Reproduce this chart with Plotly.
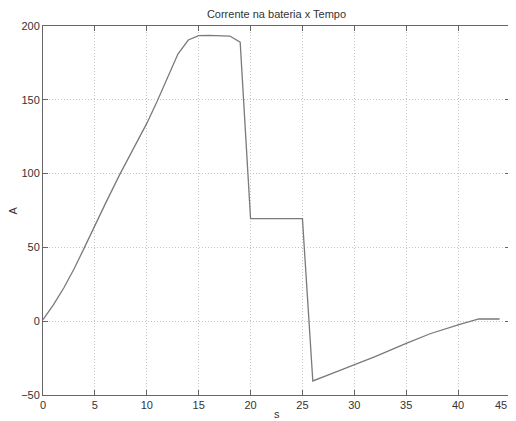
import plotly.graph_objects as go

time_s = [0, 1, 2, 3, 4, 5, 6, 7.4, 9, 10, 11, 12, 13, 14, 15, 16, 17, 18, 19, 20,
          25, 26, 28, 30, 32, 35, 37.3, 40, 42, 44]
current_a = [1, 11, 22.5, 35.5, 50, 65, 79.5, 99.5, 121, 134, 149, 165, 181, 190.5, 193.5, 193.6, 193.5, 193.2, 189, 69.5,
             69.5, -40.5, -35, -29.7, -24, -15, -8.5, -2.5, 1.5, 1.5]

x_ticks = [0, 5, 10, 15, 20, 25, 30, 35, 40, 45]
x_tick_labels = ["0", "5", "10", "15", "20", "25", "30", "35", "40", "45"]
y_ticks = [-50, 0, 50, 100, 150, 200]

FONT = "Liberation Sans, Arial"
TXT = "#333333"

# page body has an 8px margin, so the figure is sized/offset to compensate
W, H = 508, 413
ML, MR, MT, MB = 35, 6, 18, 26
PW, PH = W - ML - MR, H - MT - MB

fig = go.Figure()
fig.add_trace(go.Scatter(x=time_s, y=current_a, mode="lines",
                         line=dict(color="#7a7a7a", width=1.3), showlegend=False))

axis_common = dict(showline=True, linecolor="#666666", linewidth=1, mirror="ticks",
                   ticks="inside", ticklen=5, tickcolor="#666666", automargin=False,
                   ticklabeloverflow="allow",
                   showgrid=True, gridcolor="#c4c4c4", griddash="1px,2px", gridwidth=1,
                   zeroline=False, tickfont=dict(family=FONT, size=11, color=TXT))

# last x label is drawn as an annotation so it is not clipped by the page edge
fig.update_xaxes(range=[0, 45], tickvals=x_ticks, ticktext=x_tick_labels[:-1] + [""], **axis_common)
fig.update_yaxes(range=[-50, 200], tickvals=y_ticks, **axis_common)

fig.add_annotation(text=x_tick_labels[-1], xref="x", yref="paper", x=x_ticks[-1], y=0,
                   yanchor="top", xanchor="right", xshift=-1, yshift=-2, showarrow=False,
                   font=dict(family=FONT, size=11, color=TXT))
fig.add_annotation(text="s", xref="paper", yref="paper", x=0.5, y=-19 / PH, yanchor="middle",
                   showarrow=False, font=dict(family=FONT, size=11, color=TXT))
fig.add_annotation(text="A", xref="paper", yref="paper", x=-31 / PW, y=0.5, textangle=-90,
                   xanchor="center", yanchor="middle", showarrow=False,
                   font=dict(family=FONT, size=11, color=TXT))

fig.update_layout(width=W, height=H, margin=dict(l=ML, r=MR, t=MT, b=MB),
                  paper_bgcolor="white", plot_bgcolor="white",
                  title=dict(text="Corrente na bateria x Tempo", x=0.5, xref="paper", xanchor="center",
                             y=1 - 6 / H, yref="container", yanchor="middle",
                             font=dict(family=FONT, size=11, color=TXT)))

fig.write_html("out.html")
